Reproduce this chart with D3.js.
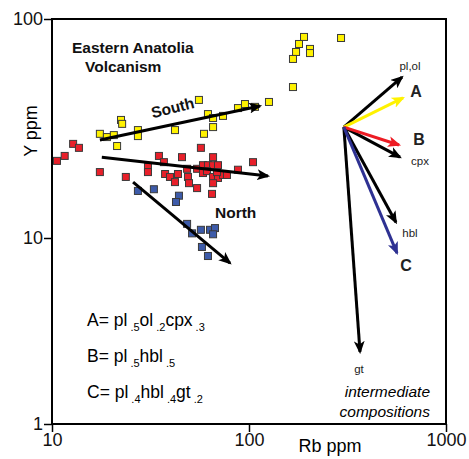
<!DOCTYPE html>
<html lang="en">
<head>
    <meta charset="UTF-8">
    <title>Eastern Anatolia Volcanism - Rb vs Y</title>
    <script src="https://d3js.org/d3.v7.min.js"></script>
    <style>
        body {
            margin: 0;
            background: #fff;
            font-family: "Liberation Sans", Arial, sans-serif;
        }

        .axis path {
            display: none;
        }

        .axis line {
            stroke: #000;
            stroke-width: 1.5;
        }

        .axis text {
            font-size: 18px;
            fill: #111;
        }

        .pt {
            stroke: #3a3a3a;
            stroke-width: 1;
        }

        .label-bold {
            font-weight: bold;
            font-size: 15.5px;
            fill: #111;
        }
    </style>
</head>
<body>
    <svg></svg>
    <script>
        // tick labels
        const rbTicks = [10, 100, 1000];
        const yTicks = [1, 10, 100];

        // [Rb ppm, Y ppm]
        const southPts = [
            [190.2, 82.8], [179.4, 76.9], [173.3, 70.7], [167.2, 65.7], [204, 73], [204, 69.9],
            [293.2, 81.9], [167.2, 48.9], [126.3, 41.8], [107.2, 39.7], [95.4, 40.9], [87.9, 39.2],
            [55.7, 42.7], [61.9, 36.8], [65.7, 35.3], [73.8, 36.1], [22.4, 34.6], [22.7, 33.2],
            [17.5, 29.9], [19, 28.9], [20.6, 29.5], [21.4, 26.3], [27.3, 31.1], [27.3, 29.2],
            [42.1, 31.1], [59.1, 29.9], [65.7, 32.1]
        ];
        const centralPts = [
            [10.6, 22.5], [11.6, 23.7], [12.8, 26.9], [13.7, 25.8], [17.5, 20], [23.7, 19],
            [30.7, 21.1], [30.7, 20], [34.9, 23.7], [37, 22.2], [45.7, 23.4], [57, 25.8],
            [37.5, 19.6], [39.7, 19], [43.6, 19.6], [42.1, 18], [48.5, 20.7], [49, 19],
            [49.6, 17.8], [54.5, 16.9], [54.5, 20.7], [58.4, 21.5], [58.4, 19.8], [61.9, 21.5],
            [65.7, 23.4], [65.7, 21.5], [69.6, 21.5], [61.2, 20.2], [65.7, 19], [69.6, 18.8],
            [65.7, 17.8], [73.8, 19.4], [77.3, 19.4], [64.9, 15.9], [87.9, 20.5], [104.8, 22.2],
            [68.8, 20]
        ];
        const northPts = [
            [27.3, 16.4], [32.9, 16.7], [44.1, 15.6], [42.6, 14.6], [48.5, 11.6], [51.4, 10.5],
            [57, 10.9], [63.4, 10.9], [67.2, 11.1], [65.7, 10.4], [57.7, 8.95], [61.9, 8]
        ];

        // trend arrows [start, end]
        const southTrend = [[17.5, 28], [113.7, 40.1]];
        const centralTrend = [[17.9, 23.4], [124.8, 19.2]];
        const northTrend = [[25.8, 18], [80.1, 7.33]];

        // fractionation vectors from a common origin
        const vecOrigin = [303, 32.1];
        const vecNames = ["pl,ol", "A", "B", "cpx", "hbl", "C", "gt"];
        const vecEnds = [[598, 54.3], [605, 43.6], [577, 26.6], [584, 23.4], [557, 11.8], [564, 8.3], [366, 2.44]];
        const vecColors = ["#000", "#fff200", "#ed1c24", "#000", "#000", "#2e3192", "#000"];

        const width = 469;
        const height = 459;
        const margin = { top: 19, right: 23, bottom: 35, left: 52 };

        const svg = d3.select("svg")
            .attr("width", width)
            .attr("height", height);

        const x = d3.scaleLog()
            .domain([10, 1000])
            .range([margin.left, width - margin.right]);

        // the printed y axis is not evenly spaced per decade
        const y = d3.scaleLog()
            .domain([1, 10, 100])
            .range([height - margin.bottom, 238, margin.top]);

        // arrow markers, one per colour
        const defs = svg.append("defs");
        const markerColors = ["#000", "#fff200", "#ed1c24", "#2e3192"];
        markerColors.forEach((c, i) => {
            defs.append("marker")
                .attr("id", "head" + i)
                .attr("viewBox", "0 0 12 10")
                .attr("refX", 10)
                .attr("refY", 5)
                .attr("markerUnits", "userSpaceOnUse")
                .attr("markerWidth", 13)
                .attr("markerHeight", 11)
                .attr("orient", "auto")
                .append("path")
                .attr("d", "M0,0 L12,5 L0,10 L3,5 z")
                .attr("fill", c);
        });
        const headFor = c => "url(#head" + markerColors.indexOf(c) + ")";

        // axes
        svg.append("g")
            .attr("class", "axis")
            .attr("transform", `translate(${margin.left},0)`)
            .call(d3.axisLeft(y).tickValues(yTicks).tickFormat(d3.format("d")).tickSize(8).tickPadding(1));

        svg.append("g")
            .attr("class", "axis")
            .attr("transform", `translate(0,${height - margin.bottom})`)
            .call(d3.axisBottom(x).tickValues(rbTicks).tickFormat(d3.format("d")).tickSize(8).tickPadding(1));

        svg.selectAll(".axis text").style("font-family", "'Liberation Sans', Arial, sans-serif");

        // frame
        svg.append("rect")
            .attr("x", margin.left)
            .attr("y", margin.top)
            .attr("width", width - margin.right - margin.left)
            .attr("height", height - margin.bottom - margin.top)
            .attr("fill", "none")
            .attr("stroke", "#000")
            .attr("stroke-width", 2);

        // axis titles
        svg.append("text")
            .attr("transform", "translate(37,131) rotate(-90)")
            .attr("text-anchor", "middle")
            .style("font-size", "18px")
            .text("Y ppm");

        svg.append("text")
            .attr("x", 330)
            .attr("y", 452)
            .attr("text-anchor", "middle")
            .style("font-size", "18px")
            .text("Rb ppm");

        // data points
        const sq = 7;
        function drawPts(pts, color) {
            svg.append("g").selectAll("rect")
                .data(pts)
                .enter()
                .append("rect")
                .attr("class", "pt")
                .attr("x", d => x(d[0]) - sq / 2)
                .attr("y", d => y(d[1]) - sq / 2)
                .attr("width", sq)
                .attr("height", sq)
                .attr("fill", color);
        }
        drawPts(southPts, "#fff200");
        drawPts(centralPts, "#e8202a");
        drawPts(northPts, "#3d5ba9");

        // trend arrows
        [southTrend, centralTrend, northTrend].forEach(t => {
            svg.append("line")
                .attr("x1", x(t[0][0])).attr("y1", y(t[0][1]))
                .attr("x2", x(t[1][0])).attr("y2", y(t[1][1]))
                .attr("stroke", "#000")
                .attr("stroke-width", 3)
                .attr("marker-end", headFor("#000"));
        });

        // vectors (black ones first, coloured ones on top)
        const order = [0, 3, 4, 6, 1, 2, 5];
        order.forEach(i => {
            svg.append("line")
                .attr("x1", x(vecOrigin[0])).attr("y1", y(vecOrigin[1]))
                .attr("x2", x(vecEnds[i][0])).attr("y2", y(vecEnds[i][1]))
                .attr("stroke", vecColors[i])
                .attr("stroke-width", 3)
                .attr("marker-end", headFor(vecColors[i]));
        });

        // vector labels
        const vecLabelOffset = [[8, -10], [13, -5], [20, -4], [20, 5], [14, 12], [9, 14], [-1, 18]];
        vecNames.forEach((n, i) => {
            const big = n.length === 1;
            svg.append("text")
                .attr("x", x(vecEnds[i][0]) + vecLabelOffset[i][0])
                .attr("y", y(vecEnds[i][1]) + vecLabelOffset[i][1])
                .attr("text-anchor", "middle")
                .attr("dominant-baseline", "middle")
                .style("font-size", big ? "16px" : "11.5px")
                .style("font-weight", big ? "bold" : "normal")
                .style("fill", "#222")
                .text(n);
        });

        svg.append("text")
            .attr("x", 430).attr("y", 397)
            .attr("text-anchor", "end")
            .style("font-size", "15.5px").style("font-style", "italic")
            .text("intermediate");
        svg.append("text")
            .attr("x", 430).attr("y", 417)
            .attr("text-anchor", "end")
            .style("font-size", "15.5px").style("font-style", "italic")
            .text("compositions");

        // titles & group labels
        svg.append("text").attr("class", "label-bold").attr("x", 72).attr("y", 53).text("Eastern Anatolia");
        svg.append("text").attr("class", "label-bold").attr("x", 85).attr("y", 72).text("Volcanism");
        svg.append("text").attr("class", "label-bold")
            .attr("text-anchor", "middle")
            .attr("transform", "translate(174,113) rotate(-14)")
            .text("South");
        svg.append("text").attr("class", "label-bold").attr("x", 215).attr("y", 218).text("North");

        // mineral proportions
        const formulas = [
            ["A= pl", ".5", "ol", ".2", "cpx", ".3"],
            ["B= pl", ".5", "hbl", ".5"],
            ["C= pl", ".4", "hbl", ".4", "gt", ".2"]
        ];
        formulas.forEach((f, i) => {
            const t = svg.append("text")
                .attr("x", 87)
                .attr("y", 326 + i * 36)
                .style("font-size", "17.5px");
            f.forEach((part, j) => {
                const sub = j % 2 === 1;
                t.append("tspan")
                    .attr("dx", sub ? 3 : 0)
                    .attr("dy", sub ? 5 : (j > 0 ? -5 : 0))
                    .style("font-size", sub ? "11px" : "17.5px")
                    .text(part);
            });
        });
    </script>
</body>
</html>
